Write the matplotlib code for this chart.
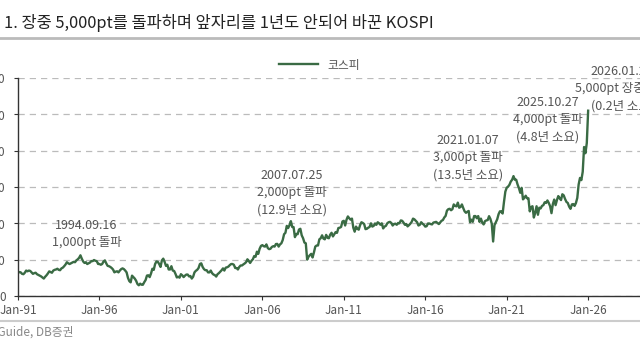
import matplotlib
matplotlib.use("Agg")
import matplotlib.pyplot as plt
import numpy as np

plt.rcParams["font.family"] = ["Noto Sans CJK KR", "DejaVu Sans"]

# KOSPI, approximate month-end levels, Jan-1991 .. Jan-2026
start_year = 1991
kospi = [
    # 1991
    635, 660, 650, 610, 600, 640, 700, 680, 700, 690, 650, 610,
    # 1992
    630, 640, 600, 580, 560, 540, 510, 480, 530, 570, 620, 678,
    # 1993
    660, 640, 700, 720, 730, 750, 720, 710, 760, 780, 820, 866,
    # 1994
    930, 900, 880, 900, 920, 940, 930, 980, 1010, 1050, 1120, 1027,
    # 1995
    950, 910, 930, 880, 900, 920, 960, 960, 990, 970, 960, 882,
    # 1996
    880, 860, 880, 950, 980, 900, 830, 820, 800, 770, 730, 651,
    # 1997
    670, 680, 650, 700, 740, 760, 740, 700, 650, 500, 410, 376,
    # 1998
    560, 520, 480, 420, 330, 295, 340, 310, 310, 380, 440, 562,
    # 1999
    570, 520, 620, 750, 720, 880, 950, 940, 880, 800, 980, 1028,
    # 2000
    940, 830, 860, 730, 730, 820, 700, 690, 610, 510, 530, 505,
    # 2001
    600, 570, 520, 560, 590, 590, 540, 550, 480, 530, 650, 693,
    # 2002
    720, 770, 880, 900, 800, 740, 710, 710, 650, 650, 700, 628,
    # 2003
    590, 575, 535, 600, 630, 670, 710, 760, 700, 780, 790, 810,
    # 2004
    850, 880, 880, 860, 770, 770, 730, 800, 840, 840, 870, 896,
    # 2005
    930, 1010, 965, 910, 970, 1010, 1100, 1080, 1220, 1160, 1300, 1379,
    # 2006
    1400, 1370, 1360, 1420, 1320, 1290, 1300, 1350, 1370, 1360, 1430, 1434,
    # 2007
    1360, 1420, 1450, 1540, 1700, 1740, 1930, 1870, 1950, 2060, 1900, 1897,
    # 2008
    1620, 1710, 1700, 1830, 1850, 1670, 1590, 1470, 1450, 1000, 1080, 1124,
    # 2009
    1160, 1060, 1200, 1360, 1390, 1390, 1560, 1590, 1670, 1580, 1560, 1682,
    # 2010
    1600, 1590, 1690, 1740, 1640, 1700, 1760, 1740, 1870, 1880, 1900, 2051,
    # 2011
    2070, 1940, 2100, 2190, 2140, 2100, 2130, 1880, 1770, 1910, 1850, 1826,
    # 2012
    1950, 2030, 2010, 1980, 1840, 1850, 1880, 1900, 2000, 1910, 1930, 1997,
    # 2013
    1960, 2030, 2000, 1960, 2000, 1860, 1910, 1930, 2000, 2030, 2040, 2011,
    # 2014
    1940, 1980, 1990, 1960, 2010, 2000, 2080, 2070, 2020, 1960, 1980, 1916,
    # 2015
    1950, 1990, 2040, 2130, 2110, 2070, 2030, 1940, 1960, 2030, 1990, 1961,
    # 2016
    1910, 1920, 1995, 1995, 1980, 1970, 2020, 2030, 2040, 2010, 1980, 2026,
    # 2017
    2070, 2090, 2160, 2205, 2350, 2390, 2400, 2360, 2390, 2520, 2480, 2467,
    # 2018
    2570, 2430, 2450, 2520, 2420, 2330, 2290, 2320, 2340, 2030, 2100, 2041,
    # 2019
    2200, 2200, 2140, 2200, 2040, 2130, 2020, 1970, 2060, 2080, 2090, 2197,
    # 2020
    2120, 1990, 1500, 1950, 2030, 2110, 2250, 2330, 2330, 2270, 2590, 2873,
    # 2021
    2980, 3010, 3060, 3150, 3200, 3300, 3200, 3200, 3070, 2970, 2840, 2977,
    # 2022
    2660, 2700, 2760, 2690, 2690, 2330, 2450, 2470, 2160, 2290, 2470, 2236,
    # 2023
    2430, 2410, 2480, 2500, 2580, 2560, 2630, 2560, 2470, 2280, 2530, 2655,
    # 2024
    2500, 2640, 2750, 2690, 2640, 2800, 2770, 2670, 2590, 2560, 2460, 2399,
    # 2025
    2520, 2530, 2480, 2560, 2700, 3070, 3250, 3190, 3420, 4100, 3930, 4210,
    # 2026
    5100,
]

tick_years = [1991, 1996, 2001, 2006, 2011, 2016, 2021, 2026]
y_ticks = [0, 1000, 2000, 3000, 4000, 5000, 6000]

ann_texts = [
    "1994.09.16\n1,000pt 돌파",
    "2007.07.25\n2,000pt 돌파\n(12.9년 소요)",
    "2021.01.07\n3,000pt 돌파\n(13.5년 소요)",
    "2025.10.27\n4,000pt 돌파\n(4.8년 소요)",
    "2026.01.22\n5,000pt 장중 돌파\n(0.2년 소요)",
]
ann_x = [1995.2, 2007.8, 2018.6, 2023.5, 2028.1]
ann_y = [1710, 2840, 3800, 4850, 5700]

title = "1. 장중 5,000pt를 돌파하며 앞자리를 1년도 안되어 바꾼 KOSPI"
source = "자료: FnGuide, DB증권"

x = start_year + np.arange(len(kospi)) / 12.0

fig = plt.figure(figsize=(6.4, 3.6), dpi=100)
W, H = 640.0, 360.0
ax = fig.add_axes([18 / W, 64 / H, 39 * 16.29 / W, 218 / H])

line_color = "#3a6b44"
ax.plot(x, kospi, color=line_color, lw=1.7, label="코스피")

ax.set_xlim(1991, 2030)
ax.set_ylim(0, 6000)
ax.set_xticks(tick_years)
ax.set_xticklabels([f"Jan-{y % 100:02d}" for y in tick_years])
ax.set_yticks(y_ticks)
ax.set_yticklabels([f"{v:,}" for v in y_ticks])
ax.tick_params(axis="both", length=3, width=0.8, color="#333333",
               labelsize=8.5, labelcolor="#555555")
ax.tick_params(axis="y", pad=6)
ax.tick_params(axis="x", pad=3)

ax.grid(axis="y", color="#bbbbbb", lw=0.9, linestyle=(0, (5, 4)))
ax.set_axisbelow(True)
for s in ("top", "right"):
    ax.spines[s].set_visible(False)
for s in ("left", "bottom"):
    ax.spines[s].set_color("#333333")
    ax.spines[s].set_linewidth(1.0)

for t, xx, yy in zip(ann_texts, ann_x, ann_y):
    ax.text(xx, yy, t, ha="center", va="center", fontsize=9,
            color="#555555", linespacing=1.45)

fig.legend(loc="center", bbox_to_anchor=(320 / W, 1 - 65 / H), frameon=False,
           fontsize=8.5, handlelength=3.3, labelcolor="#555555")

# title and source strips
fig.text(4 / W, 1 - 23 / H, title, ha="left", va="center", fontsize=11.8,
         color="#222222")
fig.add_artist(plt.Line2D([0, 1], [1 - 38 / H, 1 - 38 / H], color="#bbbbbb",
                          lw=2.0, transform=fig.transFigure))
fig.add_artist(plt.Line2D([0, 1], [1 - 321 / H, 1 - 321 / H], color="#cccccc",
                          lw=1.5, transform=fig.transFigure))
fig.text(74 / W, 1 - 332 / H, source, ha="right", va="center", fontsize=8.5,
         color="#888888")

fig.savefig("out.png", dpi=100)
